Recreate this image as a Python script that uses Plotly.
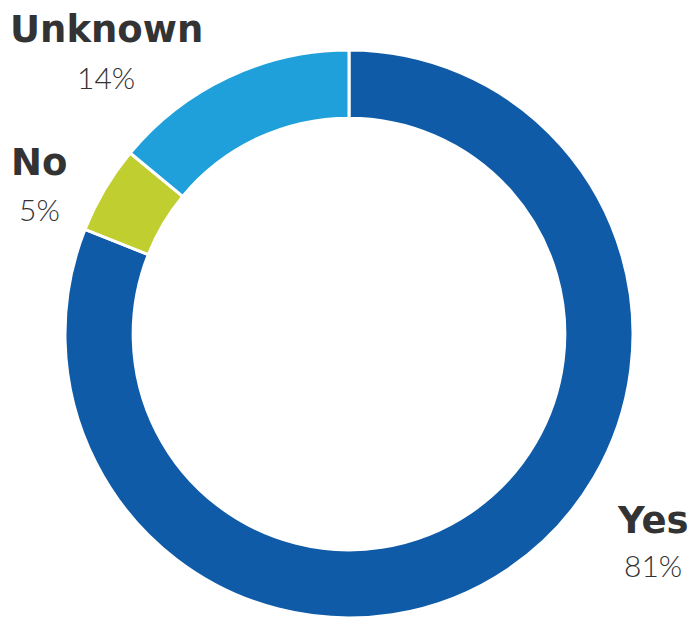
import plotly.graph_objects as go

categories = ["Yes", "No", "Unknown"]
values = [81, 5, 14]
pct_labels = ["81%", "5%", "14%"]
colors = ["#0F5BA7", "#C0CE30", "#1FA0DA"]

W, H = 691, 618
fig = go.Figure(go.Pie(
    labels=categories, values=values, sort=False, direction="clockwise", rotation=0,
    hole=0.76, textinfo="none", hoverinfo="label+percent",
    marker=dict(colors=colors, line=dict(color="white", width=3)),
    domain=dict(x=[60 / W, 638 / W], y=[0, 568 / H]),
    showlegend=False,
))

label_pos = {"Unknown": (106, 30, 77), "No": (39, 162, 209), "Yes": (653, 520, 565)}
for cat, pct in zip(categories, pct_labels):
    x, y1, y2 = label_pos[cat]
    fig.add_annotation(x=x / W, y=1 - y1 / H, xref="paper", yref="paper", text=f"<b>{cat}</b>",
                       showarrow=False, xanchor="center", yanchor="middle",
                       font=dict(family="DejaVu Sans", size=37, color="#333333"))
    fig.add_annotation(x=x / W, y=1 - y2 / H, xref="paper", yref="paper", text=pct,
                       showarrow=False, xanchor="center", yanchor="middle",
                       font=dict(family="Lato", size=30, color="#333333", weight=300))

fig.update_layout(width=W, height=H, margin=dict(l=0, r=0, t=0, b=0),
                  paper_bgcolor="white", plot_bgcolor="white")
fig.write_html("out.html", config={"displayModeBar": False},
               post_script="document.body.style.margin='0';document.body.style.overflow='hidden';")
